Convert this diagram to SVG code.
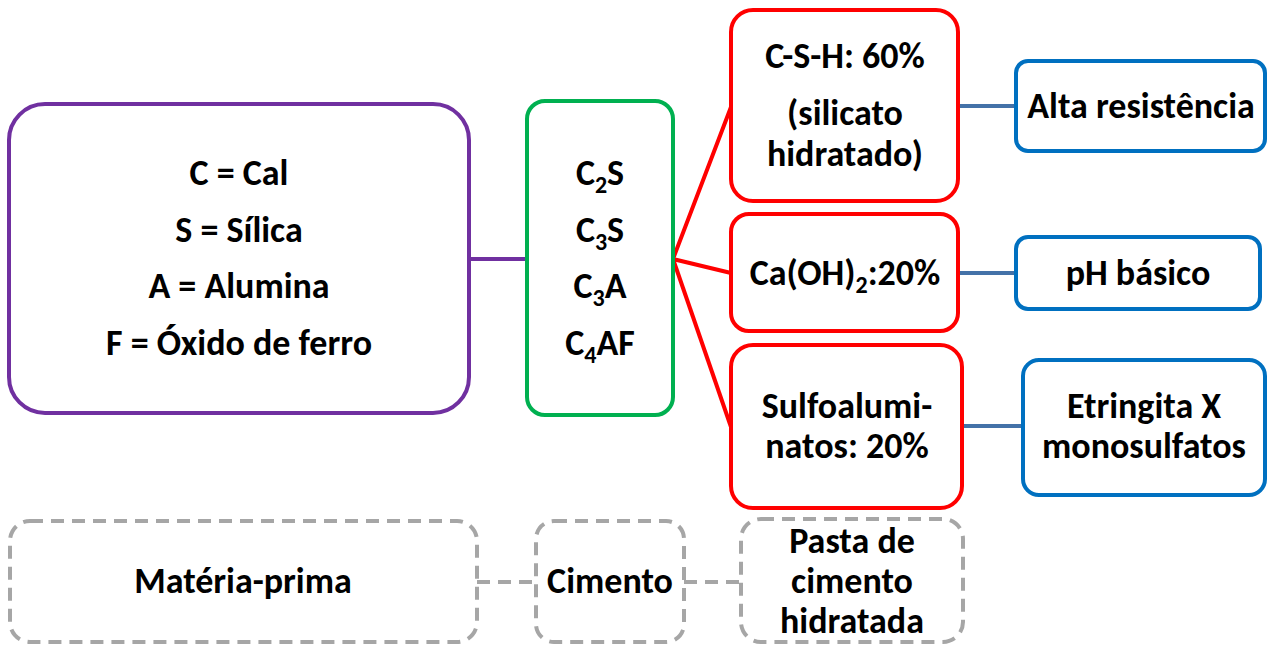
<svg xmlns="http://www.w3.org/2000/svg" width="1267" height="647" viewBox="0 0 1267 647">
<style>
text{font-family:Carlito,"Liberation Sans Narrow","Liberation Sans",sans-serif;font-weight:bold;font-size:36px;fill:#000;text-anchor:middle}
.sub{font-size:24px}
.box{fill:#fff;stroke-width:4}
.p{stroke:#7030A0}.g{stroke:#00B050}.r{stroke:#FF0000}.b{stroke:#0070C0}
.d{stroke:#A6A6A6;stroke-dasharray:13 8;fill:#fff;stroke-width:4}
.cl{stroke-width:4;fill:none}
</style>
<g id="connectors">
<line class="cl" x1="470" y1="259" x2="527" y2="259" stroke="#7030A0"/>
<polyline class="cl" points="731,107 673,259 731,273" stroke="#FF0000"/>
<line class="cl" x1="673" y1="259" x2="731" y2="427" stroke="#FF0000"/>
<line class="cl" x1="958" y1="106" x2="1016" y2="106" stroke="#4472A8"/>
<line class="cl" x1="958" y1="273" x2="1016" y2="273" stroke="#4472A8"/>
<line class="cl" x1="962" y1="426" x2="1023" y2="426" stroke="#4472A8"/>
<line class="cl" x1="477" y1="582" x2="536" y2="582" stroke="#A6A6A6" stroke-dasharray="13 8"/>
<line class="cl" x1="684" y1="582" x2="741" y2="582" stroke="#A6A6A6" stroke-dasharray="13 8"/>
</g>
<g id="materia">
<rect class="box p" x="9" y="104" width="460" height="309" rx="36"/>
<text x="239" y="185">C = Cal</text>
<text x="239" y="242">S = Sílica</text>
<text x="239" y="298">A = Alumina</text>
<text x="239" y="355">F = Óxido de ferro</text>
</g>
<g id="cimento">
<rect class="box g" x="527" y="101" width="146" height="314" rx="18"/>
<text x="600" y="185">C<tspan class="sub" dy="8">2</tspan><tspan dy="-8">S</tspan></text>
<text x="600" y="242">C<tspan class="sub" dy="8">3</tspan><tspan dy="-8">S</tspan></text>
<text x="600" y="298">C<tspan class="sub" dy="8">3</tspan><tspan dy="-8">A</tspan></text>
<text x="600" y="355">C<tspan class="sub" dy="8">4</tspan><tspan dy="-8">AF</tspan></text>
</g>
<g id="csh">
<rect class="box r" x="731" y="10" width="227" height="191" rx="22"/>
<text x="845" y="68">C-S-H: 60%</text>
<text x="845" y="125">(silicato</text>
<text x="845" y="166">hidratado)</text>
</g>
<g id="caoh">
<rect class="box r" x="731" y="214" width="227" height="117" rx="18"/>
<text x="845" y="285">Ca(OH)<tspan class="sub" dy="8">2</tspan><tspan dy="-8">:20%</tspan></text>
</g>
<g id="sulfo">
<rect class="box r" x="731" y="345" width="231" height="163" rx="22"/>
<text x="847" y="418">Sulfoalumi-</text>
<text x="847" y="458">natos: 20%</text>
</g>
<g id="alta">
<rect class="box b" x="1016" y="61" width="249" height="90" rx="12"/>
<text x="1141" y="118">Alta resistência</text>
</g>
<g id="ph">
<rect class="box b" x="1016" y="237" width="244" height="72" rx="12"/>
<text x="1138" y="285">pH básico</text>
</g>
<g id="etringita">
<rect class="box b" x="1023" y="360" width="242" height="135" rx="16"/>
<text x="1144" y="418">Etringita X</text>
<text x="1144" y="458">monosulfatos</text>
</g>
<g id="legenda-materia">
<rect class="d" x="10" y="521" width="467" height="121" rx="20"/>
<text x="243" y="593">Matéria-prima</text>
</g>
<g id="legenda-cimento">
<rect class="d" x="536" y="521" width="148" height="121" rx="18"/>
<text x="610" y="593">Cimento</text>
</g>
<g id="legenda-pasta">
<rect class="d" x="741" y="519" width="222" height="123" rx="20"/>
<text x="852" y="553">Pasta de</text>
<text x="852" y="593">cimento</text>
<text x="852" y="633">hidratada</text>
</g>
</svg>
